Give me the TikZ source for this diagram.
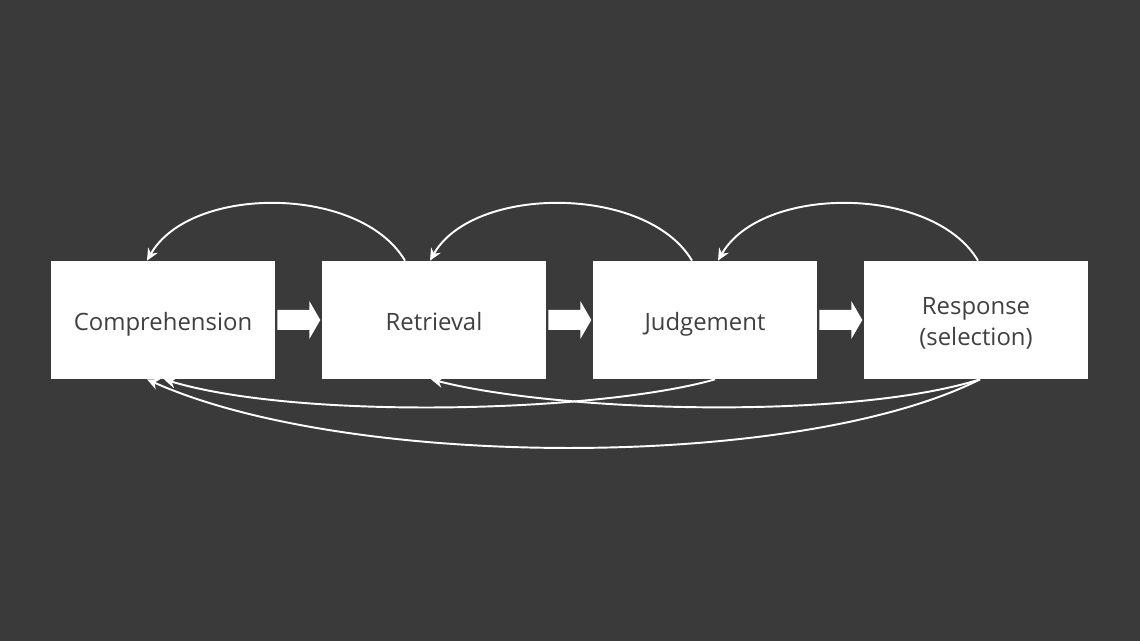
\documentclass[tikz,border=0pt]{standalone}
\usepackage{fontspec}
\setmainfont{Open Sans}
\usetikzlibrary{arrows.meta,calc}
\definecolor{SlideBg}{HTML}{3A3A3A}
\definecolor{BoxInk}{HTML}{404040}
\tikzset{
  stage/.style={fill=white,draw=none,minimum width=4.48cm,minimum height=2.36cm,
                text=BoxInk,align=center,inner sep=1mm,
                text height=15pt,text depth=3.3pt,
                font=\fontsize{13.6}{18.2}\selectfont},
  stagetwo/.style={stage,text height=33pt,text depth=3.4pt},
  feedback/.style={-{Stealth[length=2.4mm,width=2.2mm]},white,line width=1.1pt},
  blockarrow/.style={fill=white},
}

\begin{document}
\begin{tikzpicture}[x=0.02cm,y=-0.02cm]
    % four stages, block arrows forward, feedback curves back
    \fill[SlideBg] (0,0) rectangle (1140,641);
    \useasboundingbox (0,0) rectangle (1140,641);

    \node[stage] (comp) at (163,320) {Comprehension};
    \node[stage] (retr) at (434,320) {Retrieval};
    \node[stage] (judg) at (705,320) {Judgement};
    \node[stagetwo] (resp) at (976,320) {Response\\(selection)};

    \foreach \a in {comp,retr,judg}
      \fill[blockarrow] ($(\a.east)+(2,-10)$) -- ++(32,0) -- ++(0,-9) -- ++(11,19)
        -- ++(-11,19) -- ++(0,-9) -- ++(-32,0) -- cycle;

    % arcs over the top
    \draw[feedback] ($(retr.north)+(-29,0)$) .. controls +(-45,-76) and +(43,-76) .. ($(comp.north)+(-16,0)$);
    \draw[feedback] ($(judg.north)+(-13,0)$) .. controls +(-45,-76) and +(43,-76) .. ($(retr.north)+(-4,0)$);
    \draw[feedback] ($(resp.north)+(2,0)$) .. controls +(-45,-76) and +(43,-76) .. ($(judg.north)+(13,0)$);

    % curves underneath
    \draw[feedback] ($(judg.south)+(10,0)$) .. controls +(-115,33) and +(136,41) .. ($(comp.south)+(1,0)$);
    \draw[feedback] ($(resp.south)+(4,0)$) .. controls +(-130,41) and +(129,33) .. ($(retr.south)+(-3,0)$);
    \draw[feedback] ($(resp.south)+(4,0)$) .. controls +(-180,91) and +(203,91) .. ($(comp.south)+(-16,0)$);
  \end{tikzpicture}
\end{document}
